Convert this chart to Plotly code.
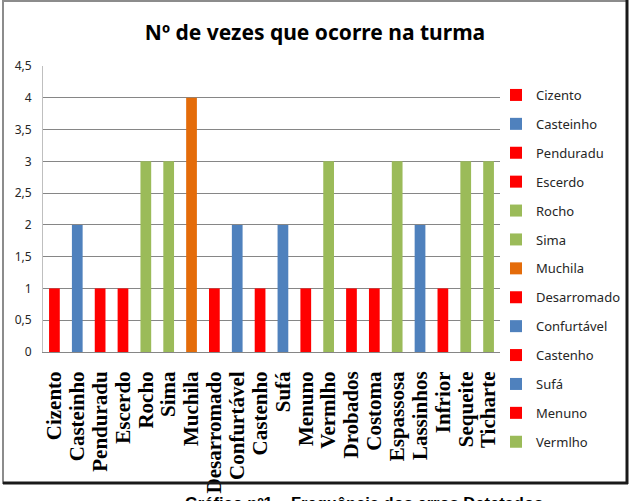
import plotly.graph_objects as go

categories = ["Cizento", "Casteinho", "Penduradu", "Escerdo", "Rocho", "Sima", "Muchila",
              "Desarromado", "Confurtável", "Castenho", "Sufá", "Menuno", "Vermlho",
              "Drobados", "Costoma", "Espassosa", "Lassinhos", "Infrior", "Sequeite", "Ticharte"]
values = [1, 2, 1, 1, 3, 3, 4, 1, 2, 1, 2, 1, 3, 1, 1, 3, 2, 1, 3, 3]
color_keys = ["r", "b", "r", "r", "g", "g", "o", "r", "b", "r", "b", "r", "g",
              "r", "r", "g", "b", "r", "g", "g"]
palette = {"r": "#FF0000", "b": "#4F81BD", "g": "#9BBB59", "o": "#E46C0A"}
legend_visible_count = 13
y_ticks = [0, 0.5, 1, 1.5, 2, 2.5, 3, 3.5, 4, 4.5]

title_text = "Nº de vezes que ocorre na turma"
caption_text = "Gráfico nº1 – Frequência dos erros Detetados"

fig = go.Figure()
for i, (cat, val, ck) in enumerate(zip(categories, values, color_keys)):
    fig.add_trace(go.Bar(
        x=[cat], y=[val], name=cat,
        marker=dict(color=palette[ck], line=dict(width=0)),
        showlegend=i < legend_visible_count,
        legendgroup=f"g{i}",
    ))

W, H = 637, 501
L, R, T, B = 43, 500, 66, 352

def px_x(p):
    return (p - L) / (R - L)

def px_y(p):
    return (B - p) / (B - T)

shapes = [
    dict(type="rect", xref="paper", yref="paper",
         x0=px_x(3), x1=px_x(627), y0=px_y(483), y1=px_y(1),
         line=dict(color="#8C8C8C", width=2), layer="below"),
    dict(type="line", xref="paper", yref="paper",
         x0=px_x(627), x1=px_x(627), y0=px_y(484), y1=px_y(0),
         line=dict(color="#1A1A1A", width=3)),
    dict(type="line", xref="paper", yref="paper",
         x0=px_x(3), x1=px_x(628), y0=px_y(483), y1=px_y(483),
         line=dict(color="#1A1A1A", width=3)),
]

fig.update_layout(
    width=W, height=H,
    margin=dict(l=L, r=W - R, t=T, b=H - B, pad=0, autoexpand=False),
    paper_bgcolor="white", plot_bgcolor="white",
    barmode="overlay", bargap=0.53,
    separators=",.",
    title=dict(text=title_text, xref="container", x=315 / W, xanchor="center",
               y=1 - 33 / H, yanchor="middle",
               font=dict(family="Noto Sans", size=21, color="#000000", weight="bold")),
    xaxis=dict(
        type="category", tickmode="array", tickvals=categories, ticktext=categories,
        tickangle=-90,
        tickfont=dict(family="Liberation Serif", size=21, color="#000000", weight="bold"),
        showgrid=False, showline=True, linecolor="#868686", linewidth=1,
        ticks="", ticklabelstandoff=10, automargin=False,
    ),
    yaxis=dict(
        range=[0, 4.5], tickvals=y_ticks, tickformat=".1~f",
        showgrid=True, gridcolor="#868686", gridwidth=1,
        showline=True, linecolor="#BFBFBF", linewidth=1,
        zeroline=False, ticks="", ticklabelstandoff=8, automargin=False,
        tickfont=dict(family="Noto Sans", size=12, color="#262626"),
    ),
    legend=dict(
        xref="container", yref="container",
        x=496 / W, xanchor="left", y=1 - 80 / H, yanchor="top",
        font=dict(family="Noto Sans", size=13, color="#262626"),
        tracegroupgap=9, itemwidth=30, bgcolor="rgba(0,0,0,0)",
        maxheight=420,
    ),
    shapes=shapes,
    annotations=[dict(
        text=caption_text, xref="paper", yref="paper",
        x=px_x(364), xanchor="center", y=px_y(492), yanchor="top",
        showarrow=False,
        font=dict(family="Liberation Sans", size=16.5, color="#000000", weight="bold"),
    )],
)

fig.write_html("out.html", config={"displayModeBar": False},
               post_script="document.body.style.margin='0px';")
